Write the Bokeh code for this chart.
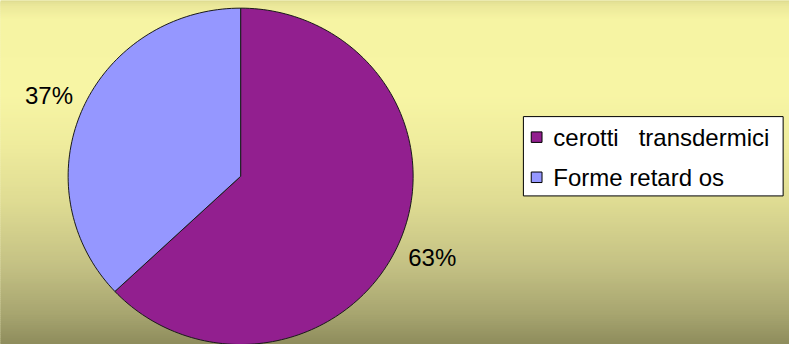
import numpy as np
from bokeh.plotting import figure
from bokeh.models import ColumnDataSource, Range1d
from bokeh.core.properties import value
from bokeh.embed import file_html
from bokeh.resources import INLINE

# ---- data ----
categories = ["cerotti\u00a0\u00a0\u00a0transdermici", "Forme retard os"]
values = [63, 37]
colors = ["#921F8F", "#9597FF"]

# ---- figure (reference pixel coordinates; y up = 360 - screen y) ----
W, H = 789, 344
p = figure(width=W, height=H, output_backend="svg", toolbar_location=None,
           x_range=Range1d(0, 805), y_range=Range1d(0, 360),
           min_border=0, outline_line_color=None)
p.axis.visible = False
p.grid.visible = False

# background gradient (style)
stops = [(0, "#DEDB91"), (6, "#EBE89A"), (20, "#F6F4A3"), (100, "#F7F5A4"),
         (150, "#EFEC9D"), (210, "#DFDC93"), (280, "#C3C083"),
         (330, "#A6A46F"), (360, "#8E8C5C")]
sy = np.array([s[0] for s in stops], float)
rgb = np.array([[int(c[1:3], 16), int(c[3:5], 16), int(c[5:7], 16)] for _, c in stops], float)
ys = np.arange(0, 360, 2.0)
cols = []
for Y in ys:
    r = np.interp(Y + 1, sy, rgb[:, 0]); g = np.interp(Y + 1, sy, rgb[:, 1]); b = np.interp(Y + 1, sy, rgb[:, 2])
    cols.append("#%02x%02x%02x" % (int(round(r)), int(round(g)), int(round(b))))
p.quad(left=-5, right=810, top=360 - ys + 0.5, bottom=360 - ys - 4, fill_color=cols,
       line_color=None)
p.background_fill_color = "#F0EE9F"
p.border_fill_color = "#F0EE9F"

# ---- pie (polygons so it scales with the axes) ----
cx, cy, R = 245, 176, 176
frac = np.array(values, float) / sum(values)
ends = np.pi / 2 - np.concatenate([[0], np.cumsum(frac)[:-1]]) * 2 * np.pi
starts = ends - frac * 2 * np.pi
pxs, pys = [], []
for s, e in zip(starts, ends):
    n = max(int(abs(e - s) / (2 * np.pi) * 240), 8)
    a = np.linspace(s, e, n)
    pxs.append(list(np.concatenate([[cx], cx + R * np.cos(a), [cx]])))
    pys.append(list(np.concatenate([[cy], cy + R * np.sin(a), [cy]])))
src = ColumnDataSource(dict(xs=pxs, ys=pys, color=colors))
p.patches(xs="xs", ys="ys", fill_color="color", line_color="#1a1a1a",
          line_width=1, source=src)

# percent labels
mids = (starts + ends) / 2
lr = 213
labels = ["%d%%" % v for v in values]
p.text(x=cx + lr * np.cos(mids), y=cy + lr * np.sin(mids), text=labels,
       text_font=value("Liberation Sans"), text_font_size="24px",
       text_align="center", text_baseline="middle", text_color="#000000")

# ---- legend (manual) ----
p.quad(left=533.5, right=798.5, top=360 - 121.5, bottom=360 - 204.5,
       fill_color="#FFFFFF", line_color="#000000", line_width=1)
leg_y = [360 - 143, 360 - 185]
p.rect(x=547, y=leg_y, width=11, height=11, fill_color=colors,
       line_color="#000000", line_width=1)
p.text(x=564, y=leg_y, text=categories, text_font=value("Liberation Sans"),
       text_font_size="24px", text_align="left", text_baseline="middle",
       text_color="#000000")

open("out.html", "w").write(file_html(p, INLINE))
